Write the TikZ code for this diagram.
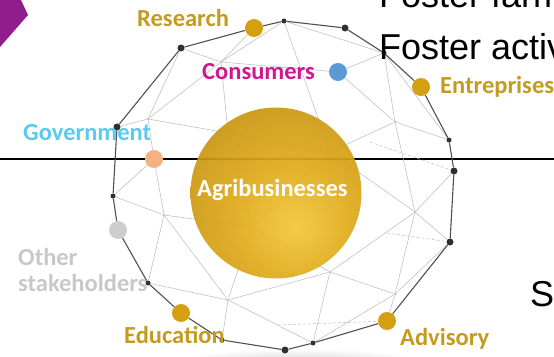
\documentclass[tikz,border=0pt]{standalone}
\usepackage{xcolor}
\usepackage{fontspec}
\setmainfont{Liberation Sans}
\newfontfamily\labelfont{Carlito}
\usetikzlibrary{backgrounds}
\definecolor{cgold}{HTML}{D4A012}
\definecolor{cgoldtext}{HTML}{C49B1F}
\definecolor{cmagenta}{HTML}{CF1890}
\definecolor{ccyan}{HTML}{5CC9EE}
\definecolor{cblue}{HTML}{5B9BD5}
\definecolor{csalmon}{HTML}{F4B183}
\definecolor{csilver}{HTML}{C8C8C8}
\definecolor{cpurple}{HTML}{911D8C}
\definecolor{crim}{HTML}{505050}
\definecolor{cmesh}{HTML}{BDBDBD}
\definecolor{cgoldlight}{HTML}{F2C73A}
\definecolor{cgoldmid}{HTML}{E0AC1C}
\definecolor{cgolddeep}{HTML}{C3900E}
\definecolor{cgolddark}{HTML}{9C720A}
\pgfdeclareradialshading{goldball}{\pgfpoint{6bp}{-10bp}}{%
  color(0bp)=(cgoldlight); color(16bp)=(cgoldmid); color(38bp)=(cgolddeep);
  color(60bp)=(cgolddark); color(100bp)=(cgolddark)}

\begin{document}
\begin{tikzpicture}[x=1pt, y=-1pt]
    \tikzset{
        rimline/.style={draw=crim, line width=1.1pt, line join=round},
        meshline/.style={draw=cmesh, line width=0.55pt},
        backline/.style={draw=cmesh, line width=0.5pt, dash pattern=on 3pt off 2pt},
        rimdot/.style={circle, fill=crim!60!black, inner sep=0pt, minimum size=7pt},
        rimdotsmall/.style={circle, fill=crim!60!black, inner sep=0pt, minimum size=5pt},
        meshdot/.style={circle, fill=gray!45, inner sep=0pt, minimum size=3.5pt},
        party/.style={circle, inner sep=0pt, minimum size=18pt},
        partylabel/.style={anchor=base west, inner sep=0pt, font=\labelfont\bfseries\fontsize{24.5}{26}\selectfont},
        slidetext/.style={anchor=base west, inner sep=0pt, font=\fontsize{36}{40}\selectfont},
        globe/.style={circle, inner sep=0pt, minimum size=171pt, shading=goldball, fill opacity=0.93}
    }
    \useasboundingbox (0,0) rectangle (554,356);
    \clip (0,0) rectangle (554,356);

    % outer ring
    \node[rimdot] (rim_nw) at (181,48) {};
    \node[rimdotsmall] (rim_n) at (284,21) {};
    \node[rimdot] (rim_nne) at (345,28) {};
    \node[rimdotsmall] (rim_ne) at (384,53) {};
    \node[rimdotsmall] (rim_e1) at (449,140) {};
    \node[rimdot] (rim_e2) at (454,171) {};
    \node[rimdot] (rim_se) at (450,242) {};
    \node[rimdotsmall] (rim_s1) at (313,343) {};
    \node[rimdot] (rim_s2) at (285,350) {};
    \node[rimdotsmall] (rim_s3) at (222,340) {};
    \node[rimdotsmall] (rim_sw) at (148,283) {};
    \node[rimdotsmall] (rim_w1) at (113,196) {};
    \node[rimdot] (rim_w2) at (117,127) {};

    % inner mesh
    \node[meshdot] (mesh1) at (221,62) {};
    \node[meshdot] (mesh2) at (148,119) {};
    \node[meshdot] (mesh3) at (395,122) {};
    \node[meshdot] (mesh4) at (415,212) {};
    \node[meshdot] (mesh5) at (330,272) {};
    \node[meshdot] (mesh6) at (395,294) {};
    \node[meshdot] (mesh7) at (164,215) {};
    \node[meshdot] (mesh8) at (228,300) {};
    \coordinate (globe1) at (228,133);
    \coordinate (globe2) at (252,227);
    \coordinate (globe3) at (330,152);
    \coordinate (back_a) at (278,325);
    \coordinate (back_b) at (387,233);
    \coordinate (back_c) at (370,142);
    \coordinate (rule_west) at (0,159);
    \coordinate (rule_east) at (554,159);

    % stakeholders
    \node[party, fill=cgold] (research) at (254,28) {};
    \node[party, fill=cblue] (consumers) at (338,72) {};
    \node[party, fill=cgold] (entreprises) at (421,87) {};
    \node[party, fill=csalmon] (government) at (154,159) {};
    \node[party, fill=csilver!90] (other) at (118,230) {};
    \node[party, fill=cgold] (education) at (181,313) {};
    \node[party, fill=cgold] (advisory) at (387,321) {};

    \begin{scope}[on background layer]
    \shade[inner color=black!14, outer color=white] (300,360) ellipse [x radius=125, y radius=11];
    \path[draw=black, line width=1.8pt] (rule_west) -- (rule_east);
    \path[backline] (back_a) -- (advisory);
    \path[backline] (back_b) -- (rim_se);
    \path[backline] (back_c) -- (rim_e2);
    \path[meshline] (rim_nw) -- (mesh1);
    \path[meshline] (rim_nw) -- (mesh2);
    \path[meshline] (mesh1) -- (research);
    \path[meshline] (mesh1) -- (rim_n);
    \path[meshline] (mesh1) -- (consumers);
    \path[meshline] (mesh1) -- (mesh2);
    \path[meshline] (mesh1) -- (globe1);
    \path[meshline] (mesh2) -- (rim_w2);
    \path[meshline] (mesh2) -- (government);
    \path[meshline] (mesh2) -- (globe1);
    \path[meshline] (rim_n) -- (rim_ne);
    \path[meshline] (rim_n) -- (globe3);
    \path[meshline] (consumers) -- (rim_ne);
    \path[meshline] (consumers) -- (mesh3);
    \path[meshline] (rim_ne) -- (mesh3);
    \path[meshline] (rim_ne) -- (rim_e1);
    \path[meshline] (mesh3) -- (rim_e1);
    \path[meshline] (mesh3) -- (mesh4);
    \path[meshline] (mesh3) -- (globe3);
    \path[meshline] (mesh4) -- (rim_e2);
    \path[meshline] (mesh4) -- (rim_se);
    \path[meshline] (mesh4) -- (mesh6);
    \path[meshline] (mesh4) -- (mesh5);
    \path[meshline] (mesh4) -- (globe3);
    \path[meshline] (mesh5) -- (mesh6);
    \path[meshline] (mesh5) -- (globe2);
    \path[meshline] (mesh5) -- (rim_s1);
    \path[meshline] (mesh5) -- (mesh8);
    \path[meshline] (mesh6) -- (rim_se);
    \path[meshline] (mesh6) -- (advisory);
    \path[meshline] (mesh6) -- (rim_s1);
    \path[meshline] (mesh8) -- (mesh7);
    \path[meshline] (mesh8) -- (rim_sw);
    \path[meshline] (mesh8) -- (rim_s3);
    \path[meshline] (mesh8) -- (rim_s1);
    \path[meshline] (mesh8) -- (globe2);
    \path[meshline] (mesh7) -- (government);
    \path[meshline] (mesh7) -- (rim_w1);
    \path[meshline] (mesh7) -- (rim_sw);
    \path[meshline] (mesh7) -- (globe2);
    \path[meshline] (government) -- (rim_w1);
    \path[meshline] (globe1) -- (globe2);
    \path[meshline] (globe2) -- (globe3);
    \path[meshline] (globe1) -- (globe3);
    \path[rimline] (rim_nw) -- (research) -- (rim_n) -- (rim_nne) -- (rim_ne) -- (entreprises)
        -- (rim_e1) -- (rim_e2) -- (rim_se) -- (advisory) -- (rim_s1) -- (rim_s2) -- (rim_s3)
        -- (education) -- (rim_sw) -- (other) -- (rim_w1) -- (rim_w2) -- (rim_nw);
    \end{scope}

    \node[globe] (agri) at (276,193) {};
    \fill[cpurple] (0,0) -- (21,0) -- (28,15) -- (0,47) -- cycle;

    % labels
    \node[partylabel, text=cgoldtext] (research_txt) at (137,27) {Research};
    \node[partylabel, text=cmagenta] (consumers_txt) at (202,79) {Consumers};
    \node[partylabel, text=cgoldtext] (entreprises_txt) at (440,93) {Entreprises};
    \node[partylabel, text=ccyan] (government_txt) at (23,140) {Government};
    \node[partylabel, text=csilver, anchor=north west, align=left] (other_txt) at (18,248) {Other\\stakeholders};
    \node[partylabel, text=cgoldtext] (education_txt) at (124,343) {Education};
    \node[partylabel, text=cgoldtext] (advisory_txt) at (400,345) {Advisory};
    \node[partylabel, text=white] (agri_txt) at (197,196) {Agribusinesses};

    \node[slidetext] (foster1) at (379,8) {Foster farm};
    \node[slidetext] (foster2) at (379,59) {Foster activ};
    \node[slidetext] (se) at (530,306) {Se};
\end{tikzpicture}
\end{document}
